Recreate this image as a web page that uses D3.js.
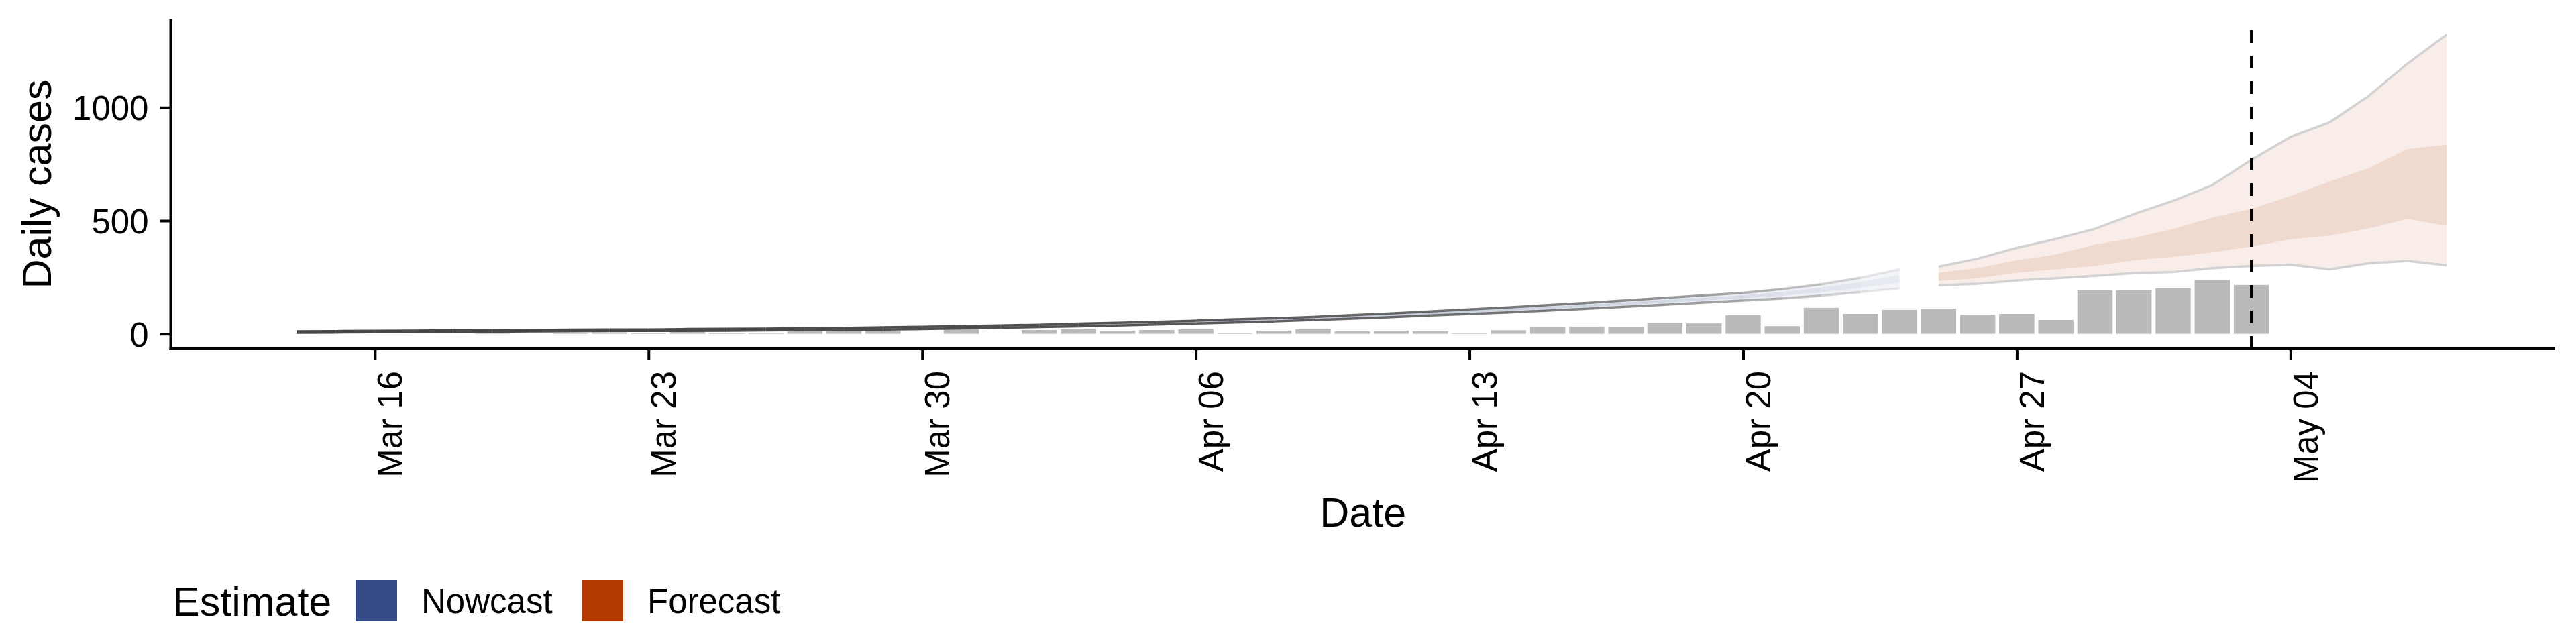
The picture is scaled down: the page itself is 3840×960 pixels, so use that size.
<!DOCTYPE html>
<html>
<head>
<meta charset="utf-8">
<script src="https://cdn.jsdelivr.net/npm/d3@7"></script>
<style>
  html, body { margin: 0; padding: 0; background: #fff; }
  svg text { font-family: "Liberation Sans", Arial, Helvetica, sans-serif; }
</style>
</head>
<body>
<svg id="chart" width="3840" height="960"></svg>
<script>
// ---------------- DATA ----------------
const caseStart = "2020-03-14";
const caseValues = [
  0,0,0,0,0,2,0,2,7,4,8,3,5,13,13,15,0,33,          // Mar 14 - Mar 31
  0,17,20,14,17,20,4,14,20,11,14,11,2,16,29,32,31,49,46,82,34,115,88,106, // Apr 1 - Apr 24
  112,85,88,61,192,192,201,237,216                  // Apr 25 - May 3
];

const nowStart = "2020-03-14";   // Nowcast Mar 14 - Apr 24
const nowLower90 = [5,6,7,8,9,10,11,12,13, 13,13,14,15,17,18,19,21,24,
  27,30,33,37,41,46,50,55,61,67, 74,81,88,95,103,111,120,129,138,147, 156,169,184,201];
const nowUpper90 = [11,12,13,14,15,16,17,18,19, 19,21,22,23,25,26,29,31,34,
  37,40,45,49,53,58,64,69,75,83, 90,99,108,117,127,137,148,159,170,181, 198,219,248,285];
const nowLower50 = [7,8,9,10,11,12,13,14,15, 15,15,16,17,19,20,22,24,27,
  30,33,37,41,45,50,54,59,65,72, 79,86,94,102,110,119,128,138,148,157, 169,184,203,226];
const nowUpper50 = [9,10,11,12,13,14,15,16,17, 17,19,20,21,23,24,26,28,31,
  34,37,41,45,49,54,60,65,71,78, 85,94,102,110,120,129,140,150,160,171, 185,204,229,260];

const foreStart = "2020-04-25";  // Forecast Apr 25 - May 8
const foreUpper90 = [297,332,380,419,464,529,588,657,769,870,934,1051,1195,1323];
const foreUpper50 = [270,290,325,350,395,424,464,514,552,609,673,732,817,836];
const foreLower50 = [234,246,270,285,300,325,340,360,386,418,434,466,508,477];
const foreLower90 = [215,221,236,246,256,269,273,290,300,306,285,312,322,303];

const xTickDates = ["2020-03-16","2020-03-23","2020-03-30","2020-04-06","2020-04-13","2020-04-20","2020-04-27","2020-05-04"];
const yTickValues = [0, 500, 1000];
const cutoffDate = "2020-05-03";

const legendTitle = "Estimate";
const legendLabels = ["Nowcast", "Forecast"];
const legendColors = ["#344b85", "#b33a00"];

// ---------------- HELPERS ----------------
const parse = d3.utcParse("%Y-%m-%d");
const DAY = 864e5;
const seq = (start, arr) => arr.map((v, i) => ({ date: d3.utcDay.offset(parse(start), i), v, i }));

const cases = seq(caseStart, caseValues);
const now = nowLower90.map((_, i) => ({
  date: d3.utcDay.offset(parse(nowStart), i),
  l90: nowLower90[i], u90: nowUpper90[i], l50: nowLower50[i], u50: nowUpper50[i]
}));
const fore = foreUpper90.map((_, i) => ({
  date: d3.utcDay.offset(parse(foreStart), i),
  l90: foreLower90[i], u90: foreUpper90[i], l50: foreLower50[i], u50: foreUpper50[i]
}));

// ---------------- LAYOUT ----------------
const panel = { left: 254.5, right: 3809, top: 29, bottom: 520 };
const svg = d3.select("#chart");

const lo = +cases[0].date - 0.45 * DAY;
const hi = +fore[fore.length - 1].date;
const span = hi - lo;
const x = d3.scaleUtc()
  .domain([new Date(lo - 0.05 * span), new Date(hi + 0.05 * span)])
  .range([panel.left, panel.right]);

const yMax = d3.max(fore, d => d.u90);
const y = d3.scaleLinear()
  .domain([-0.05 * yMax, yMax * 1.05])
  .range([panel.bottom, panel.top]);

// ---------------- BARS ----------------
svg.append("g").selectAll("rect")
  .data(cases.filter(d => d.v > 0))
  .join("rect")
  .attr("x", d => x(+d.date - 0.45 * DAY))
  .attr("width", d => x(+d.date + 0.45 * DAY) - x(+d.date - 0.45 * DAY))
  .attr("y", d => y(d.v))
  .attr("height", d => y(0) - y(d.v))
  .attr("fill", "#bababa");

// ---------------- NOWCAST (fading per day) ----------------
const gNow = svg.append("g");
const nLast = now.length - 1;
const area90 = d3.area().x(d => x(d.date)).y0(d => y(d.l90)).y1(d => y(d.u90));
const area50 = d3.area().x(d => x(d.date)).y0(d => y(d.l50)).y1(d => y(d.u50));
const lineU = d3.line().x(d => x(d.date)).y(d => y(d.u90));
const lineL = d3.line().x(d => x(d.date)).y(d => y(d.l90));
for (let i = 0; i < nLast; i++) {
  const seg = [now[i], now[i + 1]];
  const dist = nLast - 1 - i;
  const a = 0.12 + 0.88 * (1 - Math.exp(-dist / 8));
  gNow.append("path").attr("d", area90(seg)).attr("fill", legendColors[0]).attr("fill-opacity", 0.12 * a + 0.05);
  gNow.append("path").attr("d", area50(seg)).attr("fill", legendColors[0]).attr("fill-opacity", 0.12 * a + 0.04);
  gNow.append("path").attr("d", lineU(seg)).attr("fill", "none").attr("stroke", "#474747").attr("stroke-opacity", a).attr("stroke-width", 3.5);
  gNow.append("path").attr("d", lineL(seg)).attr("fill", "none").attr("stroke", "#474747").attr("stroke-opacity", a).attr("stroke-width", 3.5);
}

// ---------------- FORECAST ----------------
const gFore = svg.append("g");
gFore.append("path").attr("d", area90(fore)).attr("fill", legendColors[1]).attr("fill-opacity", 0.09);
gFore.append("path").attr("d", area50(fore)).attr("fill", legendColors[1]).attr("fill-opacity", 0.11);
gFore.append("path").attr("d", lineU(fore)).attr("fill", "none").attr("stroke", "#d2d2d2").attr("stroke-width", 3.5);
gFore.append("path").attr("d", lineL(fore)).attr("fill", "none").attr("stroke", "#d2d2d2").attr("stroke-width", 3.5);

// ---------------- CUTOFF LINE ----------------
svg.append("line")
  .attr("x1", x(parse(cutoffDate))).attr("x2", x(parse(cutoffDate)))
  .attr("y1", panel.bottom).attr("y2", panel.top)
  .attr("stroke", "#000").attr("stroke-width", 4).attr("stroke-dasharray", "19 19");

// ---------------- AXES ----------------
const fmt = d3.utcFormat("%b %d");
const xAxis = svg.append("g")
  .attr("transform", `translate(0,${panel.bottom})`)
  .call(d3.axisBottom(x).tickValues(xTickDates.map(parse)).tickFormat(fmt).tickSize(16).tickSizeOuter(0));
xAxis.select(".domain").attr("stroke", "#000").attr("stroke-width", 4)
  .attr("d", `M${panel.left - 2},0H${panel.right}`);
xAxis.selectAll(".tick line").attr("stroke", "#000").attr("stroke-width", 4);
xAxis.selectAll(".tick text")
  .attr("font-size", 51).attr("fill", "#000")
  .attr("text-anchor", "end")
  .attr("transform", "rotate(-90)")
  .attr("x", -33).attr("y", 40).attr("dy", 0);

const yAxis = svg.append("g")
  .attr("transform", `translate(${panel.left},0)`)
  .call(d3.axisLeft(y).tickValues(yTickValues).tickFormat(d3.format("d")).tickSize(16).tickPadding(17).tickSizeOuter(0));
yAxis.select(".domain").attr("stroke", "#000").attr("stroke-width", 4)
  .attr("d", `M0,${panel.top}V${panel.bottom + 2}`);
yAxis.selectAll(".tick line").attr("stroke", "#000").attr("stroke-width", 4);
yAxis.selectAll(".tick text").attr("font-size", 51).attr("fill", "#000").attr("dy", "0.36em");
svg.selectAll(".tick text").style("font-family", "'Liberation Sans', Arial, sans-serif");

// Titles
svg.append("text")
  .attr("transform", `translate(76,${(panel.top + panel.bottom) / 2}) rotate(-90)`)
  .attr("text-anchor", "middle").attr("font-size", 61).attr("fill", "#000")
  .text("Daily cases");
svg.append("text")
  .attr("x", (panel.left + panel.right) / 2).attr("y", 785)
  .attr("text-anchor", "middle").attr("font-size", 61).attr("fill", "#000")
  .text("Date");

// ---------------- LEGEND ----------------
const lg = svg.append("g");
lg.append("text").attr("x", 257).attr("y", 918).attr("font-size", 61).attr("fill", "#000").text(legendTitle);
const keyX = [530, 867];
const labX = [628, 965];
legendLabels.forEach((lab, i) => {
  lg.append("rect").attr("x", keyX[i]).attr("y", 864).attr("width", 62).attr("height", 62).attr("fill", legendColors[i]);
  lg.append("text").attr("x", labX[i]).attr("y", 914).attr("font-size", 51).attr("fill", "#000").text(lab);
});
</script>
</body>
</html>
